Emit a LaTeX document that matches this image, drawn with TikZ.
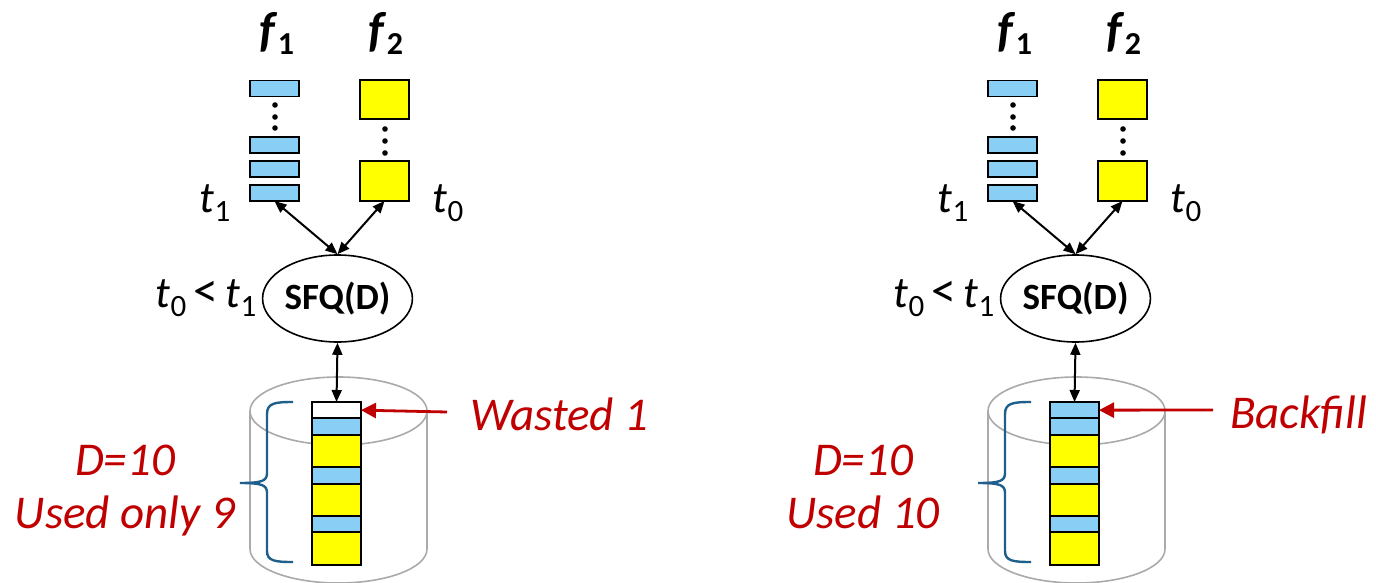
\documentclass[tikz,border=0pt]{standalone}
\usepackage{fontspec}
\setmainfont{Carlito}
\usetikzlibrary{arrows.meta,shapes.geometric,positioning}
\definecolor{qblue}{RGB}{137,206,244}
\definecolor{qyellow}{RGB}{255,255,0}
\definecolor{qred}{RGB}{192,0,0}
\definecolor{qbrace}{RGB}{31,95,140}
\definecolor{qgray}{RGB}{170,170,170}
\newcommand{\flab}[2]{\fontsize{49bp}{49bp}\selectfont\textbf{\textit{#1}}\raisebox{-8bp}{\fontsize{32bp}{32bp}\selectfont\textbf{#2}}}
\newcommand{\tsym}[1]{\textit{t}\raisebox{-9bp}{\fontsize{31bp}{31bp}\selectfont #1}}
\tikzset{
  qbar/.style={draw=black, line width=1.8bp, fill=qblue, minimum width=49bp, minimum height=16bp, inner sep=0pt, outer sep=0pt},
  qsq/.style={draw=black, line width=1.8bp, fill=qyellow, minimum width=49bp, minimum height=40bp, inner sep=0pt, outer sep=0pt},
  qcell/.style={minimum width=49bp, minimum height=#1*16.3bp, inner sep=0pt, outer sep=0pt},
  cellborder/.style={draw=black, line width=2bp},
  flabel/.style={inner sep=0pt},
  tlabel/.style={inner sep=0pt, font=\fontsize{44bp}{44bp}\selectfont},
  sfq/.style={ellipse, draw=black, line width=1.6bp, minimum width=121bp, minimum height=87bp, inner sep=0pt, font=\fontsize{37bp}{37bp}\selectfont\bfseries},
  barrow/.style={{Triangle[length=12bp,width=10bp]}-{Triangle[length=12bp,width=10bp]}, line width=2bp},
  rarrow/.style={-{Triangle[length=15bp,width=15bp]}, line width=2.8bp, draw=qred},
  rlabel/.style={text=qred, inner sep=0pt, anchor=base, font=\fontsize{47bp}{47bp}\selectfont\itshape},
  cyl/.style={draw=qgray, line width=1.6bp},
  qbrace/.style={draw=qbrace, line width=2.4bp},
}
\begin{document}
\begin{tikzpicture}[x=1bp,y=-1bp]
\useasboundingbox (0,0) rectangle (1376,583);
% ================= LEFT PANEL =================
\begin{scope}
  \node[flabel] (L-f1) at (277,33) {\flab{f}{1}};
  \node[flabel] (L-f2) at (386,33) {\flab{f}{2}};
  \node[qbar] (L-b1) at (274.5,88.5) {};
  \node[qbar] (L-b2) at (274.5,145) {};
  \node[qbar] (L-b3) at (274.5,169) {};
  \node[qbar] (L-b4) at (274.5,193) {};
  \node[qsq, minimum height=39bp] (L-y1) at (384.5,99.5) {};
  \node[qsq] (L-y2) at (384.5,181) {};
  \foreach \yy in {105,117,128} \fill (275,\yy) circle (2.8bp);
  \foreach \yy in {129,141,153} \fill (385,\yy) circle (2.8bp);
  \node[tlabel] (L-t1) at (215,203) {\tsym{1}};
  \node[tlabel] (L-t0) at (448,203) {\tsym{0}};
  \node[sfq] (L-sfq) at (337.5,298.5) {SFQ(D)};
  \node[tlabel] (L-cmp) at (206,298) {\tsym{0}\,{\fontsize{50bp}{50bp}\selectfont<}\,\tsym{1}};
  % cylinder
  \draw[cyl] (338.5,411) ellipse [x radius=88.5bp, y radius=34bp];
  \draw[cyl] (250,411) -- (250,549);
  \draw[cyl] (427,411) -- (427,549);
  \draw[cyl] (427,549) arc[start angle=0, end angle=-180, x radius=88.5bp, y radius=34bp];
  % stack
  \node[qcell=1, fill=white, anchor=north] (L-c1) at (336.5,402) {};
  \node[qcell=1, fill=qblue, below=0pt of L-c1] (L-c2) {};
  \node[qcell=2, fill=qyellow, below=0pt of L-c2] (L-c3) {};
  \node[qcell=1, fill=qblue, below=0pt of L-c3] (L-c4) {};
  \node[qcell=2, fill=qyellow, below=0pt of L-c4] (L-c5) {};
  \node[qcell=1, fill=qblue, below=0pt of L-c5] (L-c6) {};
  \node[qcell=2, fill=qyellow, below=0pt of L-c6] (L-c7) {};
  \foreach \c in {1,...,7} \draw[cellborder] (L-c\c.north west) rectangle (L-c\c.south east);
  % connectors
  \draw[barrow] (L-b4.south) -- (L-sfq.north);
  \draw[barrow] (L-y2.south) -- (L-sfq.north);
  \draw[barrow] (L-sfq.south) -- (L-c1.north);
  % brace
  \draw[qbrace] (293,402) .. controls (275,402) and (267,403) .. (267,414)
     -- (267,473) .. controls (267,481) and (262,483) .. (240,483)
     .. controls (262,483) and (267,485) .. (267,493)
     -- (267,551) .. controls (267,561) and (275,562) .. (293,562);
  % red arrow + labels
  \coordinate (L-ra) at (447,412);
  \draw[rarrow] (L-ra) -- (L-c1.east);
  \node[rlabel, anchor=base west] (L-w) at (470,430) {Wasted 1};
  \node[rlabel] (L-d) at (125,475) {D=10};
  \node[rlabel] (L-u) at (125,528) {Used only 9};
\end{scope}
% ================= RIGHT PANEL =================
\begin{scope}[xshift=738bp]
  \node[flabel] (R-f1) at (277,33) {\flab{f}{1}};
  \node[flabel] (R-f2) at (386,33) {\flab{f}{2}};
  \node[qbar] (R-b1) at (274.5,88.5) {};
  \node[qbar] (R-b2) at (274.5,145) {};
  \node[qbar] (R-b3) at (274.5,169) {};
  \node[qbar] (R-b4) at (274.5,193) {};
  \node[qsq, minimum height=39bp] (R-y1) at (384.5,99.5) {};
  \node[qsq] (R-y2) at (384.5,181) {};
  \foreach \yy in {105,117,128} \fill (275,\yy) circle (2.8bp);
  \foreach \yy in {129,141,153} \fill (385,\yy) circle (2.8bp);
  \node[tlabel] (R-t1) at (215,203) {\tsym{1}};
  \node[tlabel] (R-t0) at (448,203) {\tsym{0}};
  \node[sfq] (R-sfq) at (337.5,298.5) {SFQ(D)};
  \node[tlabel] (R-cmp) at (206,298) {\tsym{0}\,{\fontsize{50bp}{50bp}\selectfont<}\,\tsym{1}};
  % cylinder
  \draw[cyl] (338.5,411) ellipse [x radius=88.5bp, y radius=34bp];
  \draw[cyl] (250,411) -- (250,549);
  \draw[cyl] (427,411) -- (427,549);
  \draw[cyl] (427,549) arc[start angle=0, end angle=-180, x radius=88.5bp, y radius=34bp];
  % stack
  \node[qcell=1, fill=qblue, anchor=north] (R-c1) at (336.5,402) {};
  \node[qcell=1, fill=qblue, below=0pt of R-c1] (R-c2) {};
  \node[qcell=2, fill=qyellow, below=0pt of R-c2] (R-c3) {};
  \node[qcell=1, fill=qblue, below=0pt of R-c3] (R-c4) {};
  \node[qcell=2, fill=qyellow, below=0pt of R-c4] (R-c5) {};
  \node[qcell=1, fill=qblue, below=0pt of R-c5] (R-c6) {};
  \node[qcell=2, fill=qyellow, below=0pt of R-c6] (R-c7) {};
  \foreach \c in {1,...,7} \draw[cellborder] (R-c\c.north west) rectangle (R-c\c.south east);
  % connectors
  \draw[barrow] (R-b4.south) -- (R-sfq.north);
  \draw[barrow] (R-y2.south) -- (R-sfq.north);
  \draw[barrow] (R-sfq.south) -- (R-c1.north);
  % brace
  \draw[qbrace] (293,402) .. controls (275,402) and (267,403) .. (267,414)
     -- (267,473) .. controls (267,481) and (262,483) .. (240,483)
     .. controls (262,483) and (267,485) .. (267,493)
     -- (267,551) .. controls (267,561) and (275,562) .. (293,562);
  % red arrow + labels
  \coordinate (R-ra) at (475,410);
  \draw[rarrow] (R-ra) -- (R-c1.east);
  \node[rlabel, anchor=base west] (R-w) at (492,428) {Backfill};
  \node[rlabel] (R-d) at (125,475) {D=10};
  \node[rlabel] (R-u) at (125,528) {Used 10};
\end{scope}
\end{tikzpicture}
\end{document}
